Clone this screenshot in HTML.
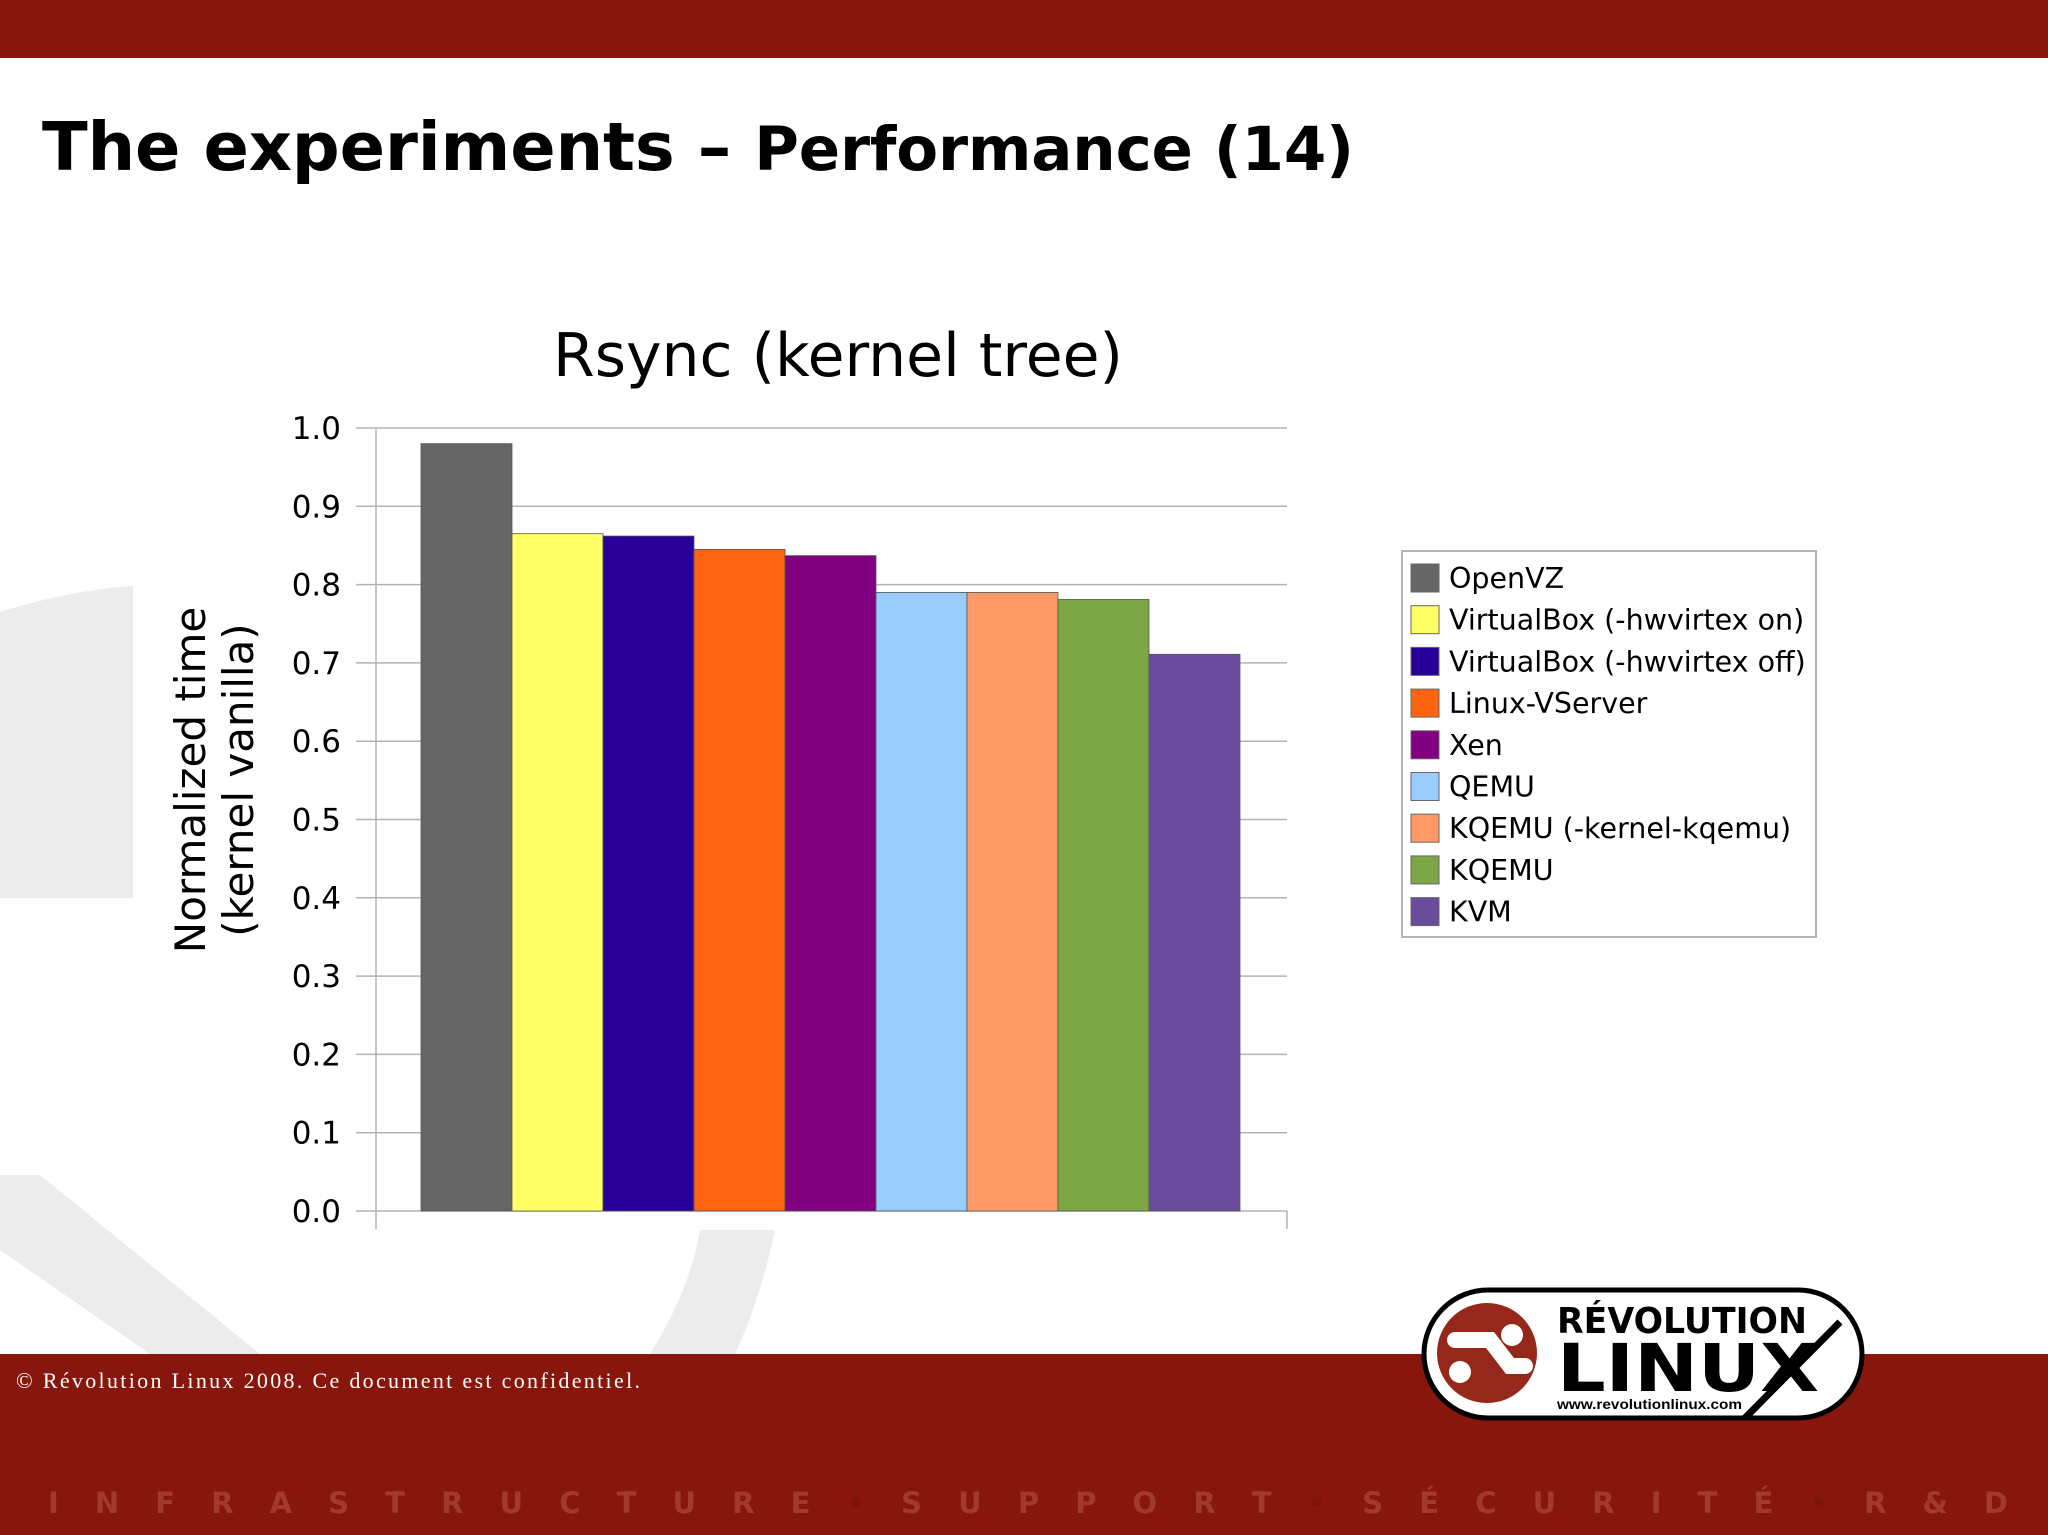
<!DOCTYPE html>
<html><head><meta charset="utf-8"><style>
html,body{margin:0;padding:0;background:#fff;}
svg{display:block;}
</style></head><body>
<svg id="slide" width="2048" height="1535" viewBox="0 0 2048 1535" xmlns="http://www.w3.org/2000/svg">
  <g fill="#ececed">
    <path d="M0 612 Q70 590 133 586 L133 898 L0 898 Z"/>
    <path d="M0 1175 L40 1175 L260 1354 L150 1354 L0 1250 Z"/>
    <path d="M700 1230 L775 1230 Q760 1300 735 1354 L650 1354 Q690 1290 700 1230 Z"/>
  </g>
  <rect x="0" y="0" width="2048" height="58" fill="#87170c"/>
  <text x="42" y="170" font-family="'DejaVu Sans','Liberation Sans',sans-serif" font-weight="bold" font-size="67" fill="#000" textLength="1312">The experiments – <tspan font-size="61">Performance (14)</tspan></text>

  <g id="chart"></g>

  <rect x="0" y="1354" width="2048" height="181" fill="#87170c"/>
  <text x="16" y="1388" font-family="'Liberation Serif',serif" font-size="22" fill="#fff" textLength="624">© Révolution Linux 2008. Ce document est confidentiel.</text>
  <text x="48" y="1513" font-family="'DejaVu Sans','Liberation Sans',sans-serif" font-weight="bold" font-size="29" fill="#a13a2c" textLength="1960">I N F R A S T R U C T U R E   <tspan fill="#7c1408">•</tspan>   S U P P O R T   <tspan fill="#7c1408">•</tspan>   S É C U R I T É   <tspan fill="#7c1408">•</tspan>   R &amp; D</text>

  <g>
    <rect x="1424" y="1290" width="438" height="128" rx="64" fill="#fff" stroke="#000" stroke-width="5"/>
    <circle cx="1487" cy="1353" r="50" fill="#96281b"/>
    <path d="M1455 1340 L1490 1340 L1510 1366 L1525 1366" stroke="#fff" stroke-width="16" fill="none" stroke-linecap="round"/>
    <circle cx="1460" cy="1372" r="11" fill="#fff"/>
    <circle cx="1512" cy="1335" r="11" fill="#fff"/>
    <text x="1557" y="1333" font-family="'DejaVu Sans','Liberation Sans',sans-serif" font-weight="bold" font-size="36" fill="#000" textLength="250" lengthAdjust="spacingAndGlyphs">RÉVOLUTION</text>
    <text x="1557" y="1391" font-family="'DejaVu Sans','Liberation Sans',sans-serif" font-weight="bold" font-size="66" fill="#000" textLength="262" lengthAdjust="spacingAndGlyphs">LINUX</text>
    <text x="1557" y="1409" font-family="'Liberation Sans',sans-serif" font-weight="bold" font-size="14" fill="#000" textLength="185" lengthAdjust="spacingAndGlyphs">www.revolutionlinux.com</text>
    <path d="M1745 1418 L1840 1322" stroke="#000" stroke-width="7"/>
  </g>
</svg>
<script>
const categories = ["OpenVZ","VirtualBox (-hwvirtex on)","VirtualBox (-hwvirtex off)","Linux-VServer","Xen","QEMU","KQEMU (-kernel-kqemu)","KQEMU","KVM"];
const values = [0.98,0.865,0.862,0.845,0.837,0.790,0.790,0.781,0.711];
const colors = ["#666666","#ffff66","#280099","#ff6411","#800080","#99ccff","#ff9966","#7da647","#6a4c9c"];
const tickLabels = ["0.0","0.1","0.2","0.3","0.4","0.5","0.6","0.7","0.8","0.9","1.0"];
const tickValues = [0,0.1,0.2,0.3,0.4,0.5,0.6,0.7,0.8,0.9,1.0];

const NS = "http://www.w3.org/2000/svg";
const g = document.getElementById('chart');
const X0 = 376, X1 = 1287, Y0 = 1211, Y1 = 428;
const barStart = 421, barW = 91;
const y = v => Y0 - (v - 0) / (1.0 - 0) * (Y0 - Y1);
const xb = i => barStart + i * barW;
function mk(tag, attrs){ const e=document.createElementNS(NS,tag); for(const k in attrs) e.setAttribute(k,attrs[k]); g.appendChild(e); return e; }

const title = mk('text',{x:838,y:376,'text-anchor':'middle','font-family':"'DejaVu Sans','Liberation Sans',sans-serif",'font-size':60,fill:'#000'});
title.textContent = "Rsync (kernel tree)";



tickValues.forEach((t,i)=>{
  const gl = mk('line',{x1:356,x2:X1,y1:y(t),y2:y(t),stroke:'#b3b3b3','stroke-width':1.5});
  
  
  const tl = mk('text',{x:341,y:y(t)+11,'text-anchor':'end','font-family':"'DejaVu Sans','Liberation Sans',sans-serif",'font-size':31,fill:'#000'});
  tl.textContent = tickLabels[i];
  
  
});
const ax = mk('line',{x1:X0,x2:X0,y1:Y1,y2:Y0+18,stroke:'#b3b3b3','stroke-width':1.5});


const axr = mk('line',{x1:X1,x2:X1,y1:Y0,y2:Y0+18,stroke:'#b3b3b3','stroke-width':1.5});



values.forEach((v,i)=>{
  const r = mk('rect',{x:xb(i),y:y(v),width:barW,height:Y0-y(v),fill:colors[i],stroke:'#555','stroke-width':0.8});
  
  
});

const yt = mk('text',{transform:'translate(205,780) rotate(-90)','text-anchor':'middle','font-family':"'DejaVu Sans','Liberation Sans',sans-serif",'font-size':42,fill:'#000'});
yt.innerHTML = '<tspan x="0" y="0">Normalized time</tspan><tspan x="0" y="48">(kernel vanilla)</tspan>';



const lb = mk('rect',{x:1402,y:551,width:414,height:386,fill:'#fff',stroke:'#b3b3b3','stroke-width':2});


categories.forEach((c,i)=>{
  const yy = 564 + i*41.7;
  const s = mk('rect',{x:1411,y:yy,width:28,height:28,fill:colors[i],stroke:'#666','stroke-width':1});
  
  
  const t = mk('text',{x:1449,y:yy+24,'font-family':"'DejaVu Sans','Liberation Sans',sans-serif",'font-size':28.5,fill:'#000'});
  t.textContent = c;
  
  
});
</script>
</body></html>
